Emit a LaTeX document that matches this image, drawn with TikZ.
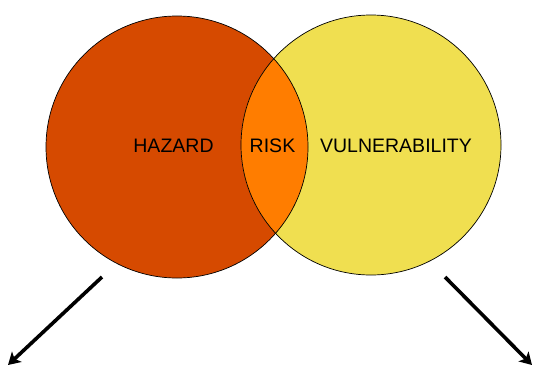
\documentclass[tikz,border=0pt]{standalone}
\usepackage{fontspec}
\setmainfont{Liberation Sans}
\usepackage{tikz}
\usetikzlibrary{arrows.meta,positioning}
\usepackage{xcolor}
\definecolor{Hazard}{RGB}{214,74,0}
\definecolor{Risk}{RGB}{255,125,0}
\definecolor{Vulner}{RGB}{240,223,80}
\tikzset{
  label/.style={anchor=base,font=\fontsize{19.5}{23}\selectfont,inner sep=0pt},
  outarrow/.style={line width=3.6pt,-{Stealth[length=12pt,width=14pt,inset=3pt]}}
}
\begin{document}
\begin{tikzpicture}[x=1pt,y=1pt]
\useasboundingbox (0,0) rectangle (534,365);
%
\fill[Hazard] (177,218) circle (131);
\fill[Vulner] (371,220) circle (130);
\begin{scope}
\clip (177,218) circle (131);
\fill[Risk] (371,220) circle (130);
\end{scope}
\draw[line width=0.7pt] (177,218) circle (131);
\draw[line width=0.7pt] (371,220) circle (130);
%
\node[label] (hazard) at (173.5,212.5) {HAZARD};
\node[label] (risk) at (272.5,212.5) {RISK};
\node[label] (vulner) at (396,212.5) {VULNERABILITY};
%
\coordinate (hstart) at (102,88);
\coordinate (hend) at (8,0);
\coordinate (vstart) at (445,88);
\coordinate (vend) at (532,0);
\draw[outarrow] (hstart) -- (hend);
\draw[outarrow] (vstart) -- (vend);
%
\end{tikzpicture}
\end{document}
